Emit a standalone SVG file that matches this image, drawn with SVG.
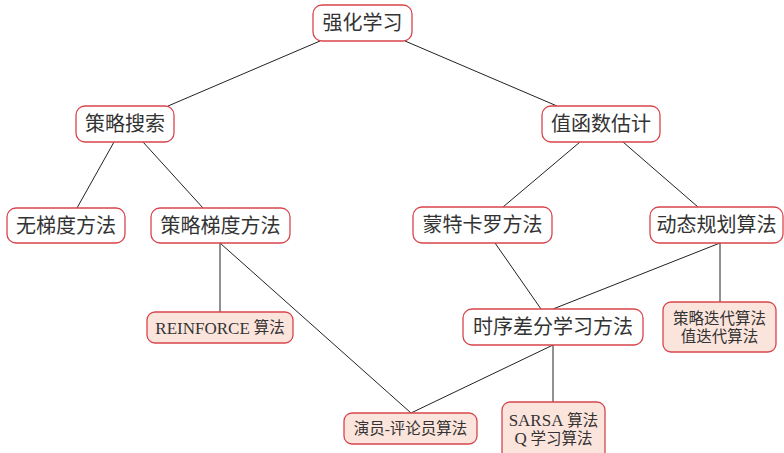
<svg xmlns="http://www.w3.org/2000/svg" width="784" height="453" viewBox="0 0 784 453">
<style>
.box{fill:#ffffff;stroke:#d8454c;stroke-width:1.3}
.leaf{fill:#fbe4dc;stroke:#d8454c;stroke-width:1.3}
.t{font-family:"Liberation Serif","Noto Sans CJK SC",serif;font-size:20px;fill:#333;text-anchor:middle;dominant-baseline:central}
.s{font-family:"Liberation Serif","Noto Sans CJK SC",serif;font-size:15.5px;fill:#333;text-anchor:middle;dominant-baseline:central}
.l{font-size:17px}
.c line{stroke:#222;stroke-width:1}
</style>
<rect width="784" height="453" fill="#ffffff"/>
<g class="c" id="connectors">
<line x1="320" y1="41" x2="168" y2="106"/>
<line x1="405" y1="41" x2="557" y2="106"/>
<line x1="114" y1="142" x2="77" y2="208"/>
<line x1="143" y1="142" x2="203" y2="208"/>
<line x1="580" y1="142" x2="503" y2="207"/>
<line x1="623" y1="142" x2="698" y2="207"/>
<line x1="220" y1="243" x2="220" y2="312"/>
<line x1="220" y1="243" x2="411" y2="413"/>
<line x1="495" y1="243" x2="541" y2="309"/>
<line x1="720" y1="243" x2="553" y2="309"/>
<line x1="720" y1="243" x2="720" y2="302"/>
<line x1="553" y1="345" x2="553" y2="402"/>
<line x1="553" y1="345" x2="411" y2="413"/>
</g>
<g id="n-root"><rect class="box" x="313" y="5" width="99" height="36" rx="9"/><text class="t" x="362.5" y="23">强化学习</text></g>
<g id="n-policy-search"><rect class="box" x="76" y="106" width="98" height="36" rx="9"/><text class="t" x="125" y="124">策略搜索</text></g>
<g id="n-value"><rect class="box" x="542" y="106" width="118" height="36" rx="9"/><text class="t" x="601" y="124">值函数估计</text></g>
<g id="n-gradfree"><rect class="box" x="7" y="208" width="118" height="35" rx="9"/><text class="t" x="66" y="225.5">无梯度方法</text></g>
<g id="n-pg"><rect class="box" x="151" y="208" width="139" height="35" rx="9"/><text class="t" x="220.5" y="225.5">策略梯度方法</text></g>
<g id="n-mc"><rect class="box" x="413" y="207" width="139" height="36" rx="9"/><text class="t" x="482.5" y="225">蒙特卡罗方法</text></g>
<g id="n-dp"><rect class="box" x="650" y="207" width="133" height="36" rx="9"/><text class="t" x="716.5" y="225">动态规划算法</text></g>
<g id="n-td"><rect class="box" x="463" y="309" width="180" height="36" rx="9"/><text class="t" x="553" y="327">时序差分学习方法</text></g>
<g id="n-reinforce"><rect class="leaf" x="147" y="312" width="146" height="31" rx="8"/><text class="s" x="220" y="327.5"><tspan class="l">REINFORCE</tspan> 算法</text></g>
<g id="n-pi"><rect class="leaf" x="663" y="302" width="113" height="50" rx="8"/><text class="s" x="719.5" y="318">策略迭代算法</text><text class="s" x="719.5" y="336">值迭代算法</text></g>
<g id="n-ac"><rect class="leaf" x="344" y="413" width="133" height="31" rx="8"/><text class="s" x="410.5" y="428.5">演员-评论员算法</text></g>
<g id="n-sarsa"><rect class="leaf" x="502" y="402" width="103" height="58" rx="8"/><text class="s" x="553.5" y="420"><tspan class="l">SARSA</tspan> 算法</text><text class="s" x="553.5" y="438"><tspan class="l">Q</tspan> 学习算法</text></g>
</svg>
